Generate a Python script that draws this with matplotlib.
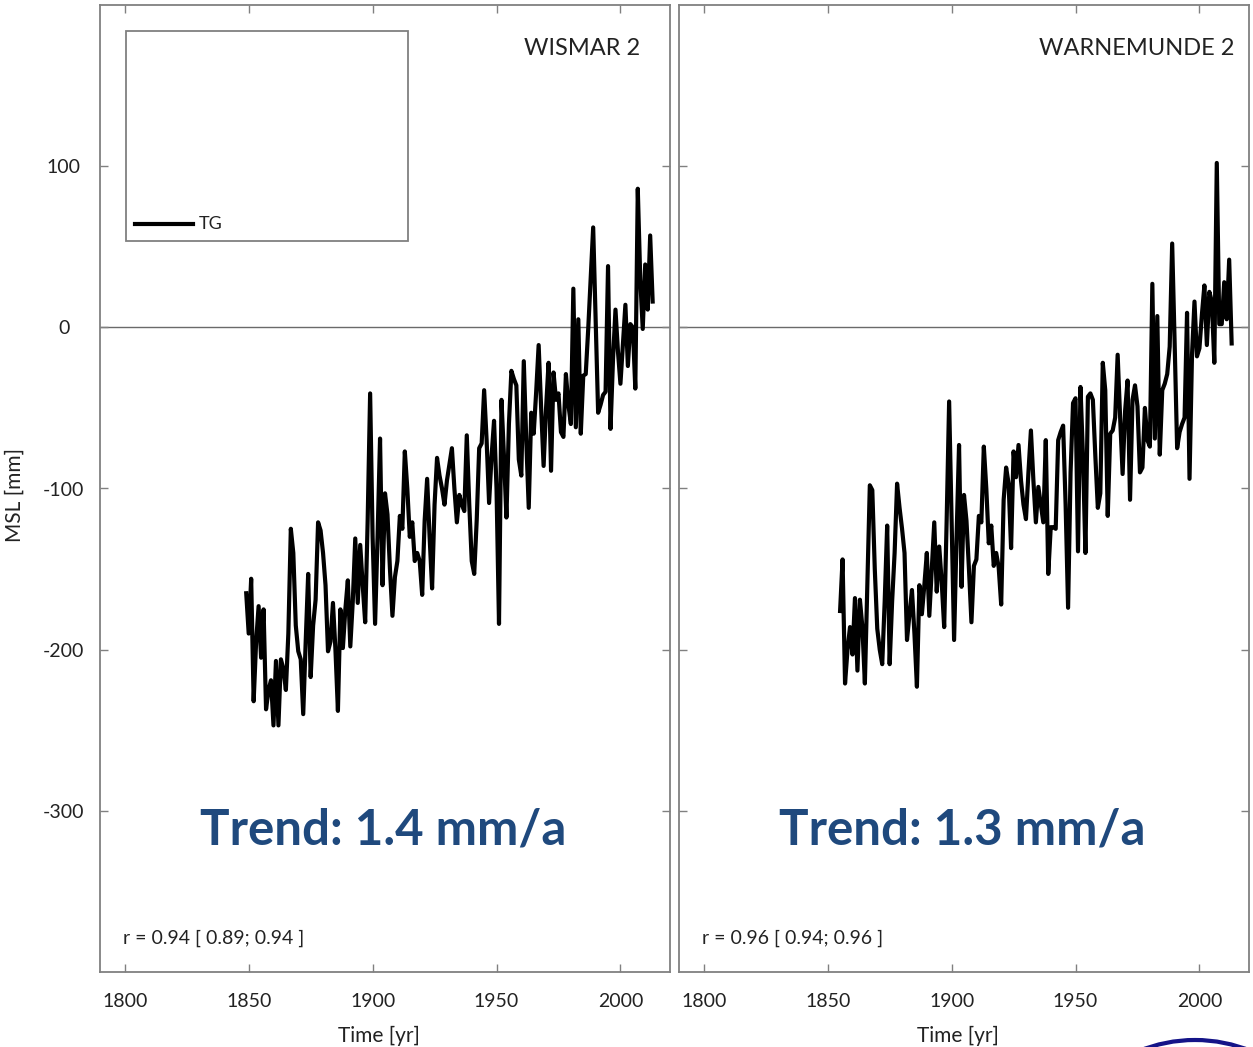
import numpy as np
import matplotlib
matplotlib.use("Agg")
import matplotlib.pyplot as plt
from matplotlib.patches import Rectangle, Ellipse

plt.rcParams['font.family'] = ['Lato', 'DejaVu Sans']
plt.rcParams['axes.unicode_minus'] = False

# Jahresmittel Meeresspiegel (Pegel)
wismar_years = np.arange(1849, 2014)
wismar_msl = [
    -165, -190, -156, -232, -195, -173, -205, -175, -237, -225,
    -219, -247, -207, -247, -206, -212, -225, -190, -125, -140,
    -185, -201, -206, -240, -195, -153, -217, -185, -169, -121,
    -126, -140, -160, -201, -195, -171, -200, -238, -175, -199,
    -175, -157, -198, -170, -131, -171, -135, -160, -183, -120,
    -41, -130, -184, -130, -69, -160, -103, -116, -150, -179,
    -155, -145, -117, -125, -77, -100, -130, -121, -145, -140,
    -145, -166, -120, -94, -130, -162, -110, -81, -92, -100,
    -110, -95, -85, -75, -100, -121, -104, -110, -114, -67,
    -110, -145, -153, -120, -75, -72, -39, -70, -109, -80,
    -58, -100, -184, -45, -80, -118, -60, -27, -32, -36,
    -82, -92, -21, -70, -112, -53, -66, -40, -11, -50,
    -86, -50, -22, -89, -28, -45, -41, -65, -68, -29,
    -48, -60, 24, -62, 5, -66, -30, -29, -1, 30,
    62, 5, -53, -48, -42, -40, 38, -63, -20, 11,
    -15, -35, -10, 14, -24, 2, 0, -38, 86, 30,
    -1, 39, 11, 57, 16,
]

warne_years = np.arange(1855, 2014)
warne_msl = [
    -176, -144, -221, -200,
    -186, -203, -168, -213, -169, -186, -221, -160, -98, -101,
    -150, -187, -200, -209, -170, -123, -209, -170, -140, -97,
    -112, -125, -140, -194, -178, -163, -190, -223, -160, -178,
    -160, -140, -179, -150, -121, -164, -136, -158, -186, -120,
    -46, -120, -194, -130, -73, -161, -104, -120, -150, -183,
    -148, -144, -117, -121, -74, -100, -134, -123, -148, -140,
    -149, -172, -107, -87, -97, -137, -77, -93, -73, -95,
    -110, -119, -90, -64, -95, -121, -99, -110, -121, -70,
    -153, -124, -124, -125, -70, -65, -61, -110, -174, -90,
    -47, -44, -139, -37, -80, -140, -43, -41, -45, -80,
    -112, -103, -22, -39, -117, -66, -64, -56, -17, -56,
    -91, -52, -33, -107, -45, -36, -49, -90, -87, -50,
    -70, -74, 27, -69, 7, -79, -39, -35, -29, -12,
    52, -10, -75, -65, -60, -56, 9, -94, -17, 16,
    -18, -13, 8, 26, -11, 22, 16, -22, 102, 2,
    2, 28, 5, 42, -10,
]

stations = ["WISMAR 2", "WARNEMUNDE 2"]
trends = ["Trend: 1.4 mm/a", "Trend: 1.3 mm/a"]
corr_texts = ["r = 0.94 [ 0.89; 0.94 ]", "r = 0.96 [ 0.94; 0.96 ]"]
xticks = [1800, 1850, 1900, 1950, 2000]
yticks = [-300, -200, -100, 0, 100]

gris = '#808080'
azul = '#1F497D'

fig = plt.figure(figsize=(12.53, 10.47), dpi=100)
ax1 = fig.add_axes([100/1253, 75/1047, 570/1253, 967/1047])
ax2 = fig.add_axes([679/1253, 75/1047, 570/1253, 967/1047])

datos = [(wismar_years, wismar_msl), (warne_years, warne_msl)]

for i, ax in enumerate([ax1, ax2]):
    x, y = datos[i]
    ax.axhline(0, color='#6a6a6a', lw=1.0, zorder=1)
    ax.plot(x, y, color='black', lw=3.0, zorder=3)
    ax.set_xlim(1790, 2020)
    ax.set_ylim(-400, 200)
    ax.set_xticks(xticks)
    ax.set_yticks(yticks)
    for s in ax.spines.values():
        s.set_color(gris)
        s.set_linewidth(1.3)
    ax.tick_params(direction='in', length=6, width=1, color=gris,
                   top=True, right=True, labelsize=14, labelcolor='#222222')
    ax.tick_params(axis='x', pad=15)
    ax.set_xlabel("Time [yr]", fontsize=15, color='#222222')
    ax.xaxis.set_label_coords(0.49, -0.056)
    ax.text(0.974 if i == 1 else 0.947, 0.955, stations[i], transform=ax.transAxes,
            ha='right', va='center', fontsize=17, color='#222222')
    ax.text(0.497, 0.147, trends[i], transform=ax.transAxes, ha='center', va='center',
            fontsize=35.5, fontweight='bold', color=azul)
    ax.text(0.040, 0.035, corr_texts[i], transform=ax.transAxes, ha='left', va='center',
            fontsize=14, color='#222222')

# eje izquierdo: etiquetas centradas como en el original
ax1.tick_params(axis='y', pad=26)
for lab in ax1.get_yticklabels():
    lab.set_horizontalalignment('center')
ax1.set_ylabel("MSL [mm]", fontsize=15, color='#222222')
ax1.yaxis.set_label_coords(-0.133, 0.493)
ax2.tick_params(axis='y', labelleft=False)

# cuadro de leyenda
ax1.add_patch(Rectangle((0.0456, 0.756), 0.494, 0.217, transform=ax1.transAxes,
                        fill=False, edgecolor=gris, lw=1.3, zorder=4))
ax1.plot([0.061, 0.163], [0.7735, 0.7735], transform=ax1.transAxes,
         color='black', lw=3.0, zorder=4)
ax1.text(0.173, 0.7735, "TG", transform=ax1.transAxes, ha='left', va='center',
         fontsize=13, color='#222222')

# arco del logo abajo a la derecha
fig.patches.append(Ellipse((1195/1253, -141/1047), 296/1253, 296/1047,
                           transform=fig.transFigure, fill=False,
                           edgecolor='#141488', lw=3, clip_on=False))

fig.savefig("out.png", dpi=100)
